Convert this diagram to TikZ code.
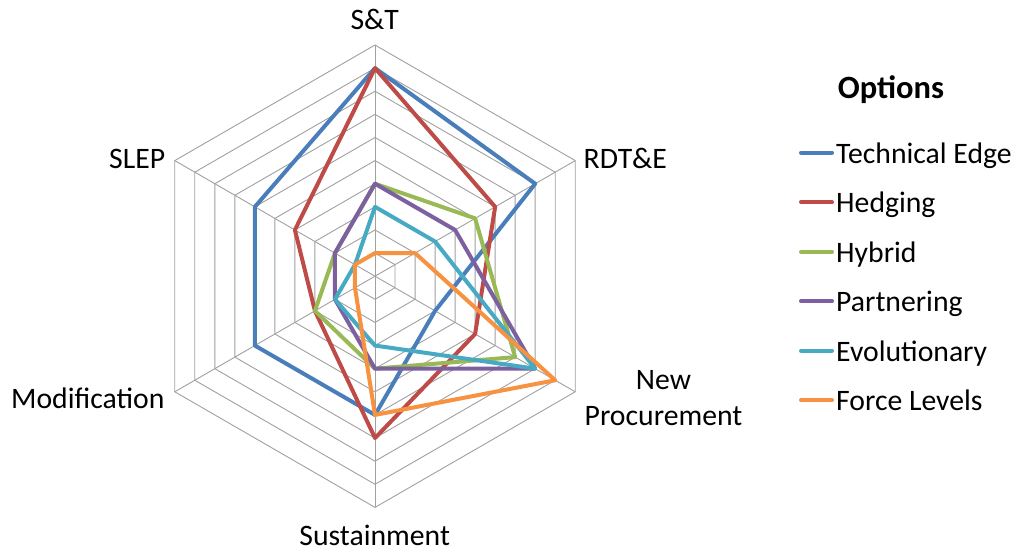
\documentclass[tikz,border=0pt]{standalone}
\usepackage{fontspec}
\setmainfont{Carlito}
\definecolor{cTE}{HTML}{4A7EBB}
\definecolor{cHE}{HTML}{BE4B48}
\definecolor{cHY}{HTML}{98B954}
\definecolor{cPA}{HTML}{7D60A0}
\definecolor{cEV}{HTML}{46AAC5}
\definecolor{cFL}{HTML}{F69240}
\definecolor{gridc}{HTML}{A0A0A0}
\newcommand\radarseries[7]{%
  \draw[series,#1] (90:#2*\u) -- (30:#3*\u) -- (-30:#4*\u) -- (-90:#5*\u) -- (210:#6*\u) -- (150:#7*\u) -- cycle;}
\begin{document}
\begin{tikzpicture}[x=1pt,y=1pt,
  gridline/.style={draw=gridc,line width=0.9pt},
  series/.style={line width=4pt,line join=round},
  lbl/.style={inner sep=0pt,font=\fontsize{29.7}{35}\selectfont,text=black},
  legline/.style={line width=4pt,line cap=round},
  title/.style={inner sep=0pt,font=\fontsize{32.5}{38}\selectfont\bfseries}]
\useasboundingbox (0,0) rectangle (1020,552);
\def\u{23.12}
\begin{scope}[shift={(375,275.8)}]
  \foreach \r in {1,...,10}
    \draw[gridline] (90:\r*\u) -- (30:\r*\u) -- (-30:\r*\u) -- (-90:\r*\u) -- (210:\r*\u) -- (150:\r*\u) -- cycle;
  \foreach \a in {90,30,-30,-90,210,150}
    \draw[gridline] (0,0) -- (\a:10*\u);
  \radarseries{cTE}{9}{8}{3}{6}{6}{6}
  \radarseries{cHE}{9}{6}{5}{7}{3}{4}
  \radarseries{cHY}{4}{5}{7}{4}{3}{2}
  \radarseries{cPA}{4}{4}{8}{4}{2}{2}
  \radarseries{cEV}{3}{3}{8}{3}{2}{1}
  \radarseries{cFL}{1}{2}{9}{6}{1}{1}
\end{scope}
% axis labels
\node[lbl,anchor=base] (st) at (374.7,552-29.3) {S\&T};
\node[lbl,anchor=base west] (rdte) at (583.5,552-168.3) {RDT\&E};
\node[lbl,anchor=base] (np1) at (663.5,552-390) {New};
\node[lbl,anchor=base] (np2) at (663.5,552-425) {Procurement};
\node[lbl,anchor=base] (sus) at (374.7,552-545.7) {Sustainment};
\node[lbl,anchor=base west] (mod) at (11,552-408.3) {Modification};
\node[lbl,anchor=base west] (slep) at (109,552-168.3) {SLEP};
% legend
\node[title,anchor=base] (opt) at (891,552-98.3) {Options};
\foreach \n/\c/\t [count=\i from 0] in {te/cTE/Technical Edge,he/cHE/Hedging,hy/cHY/Hybrid,pa/cPA/Partnering,ev/cEV/Evolutionary,fl/cFL/Force Levels}{
  \coordinate (la\n) at (801,552-152.7-49.5*\i);
  \coordinate (lb\n) at (832,552-152.7-49.5*\i);
  \draw[legline,\c] (la\n) -- (lb\n);
  \node[lbl,anchor=base west] (lt\n) at (836,552-163.3-49.5*\i) {\t};
}
\end{tikzpicture}
\end{document}
